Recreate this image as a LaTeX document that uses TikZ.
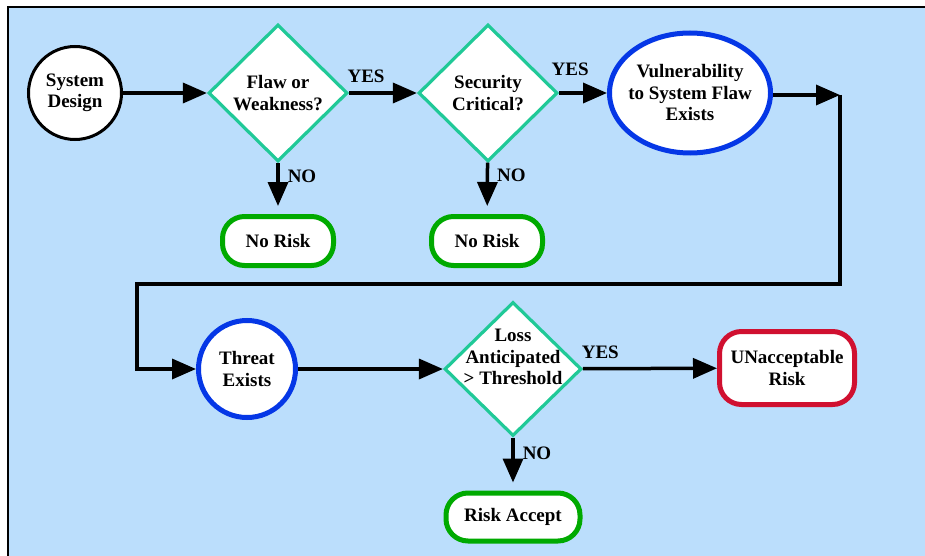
\documentclass[tikz,border=0pt]{standalone}
\usepackage{fontspec}
\setmainfont{Liberation Serif}
\usetikzlibrary{arrows.meta,shapes.geometric}

\definecolor{paneblue}{RGB}{187,222,252}
\definecolor{checkteal}{RGB}{32,201,151}
\definecolor{stateblue}{RGB}{5,55,230}
\definecolor{safegreen}{RGB}{0,170,0}
\definecolor{riskred}{RGB}{208,16,48}

\tikzset{
  flow/.style={line width=3.5pt, -{Triangle[length=24pt,width=20pt]}},
  drop/.style={flow, shorten >=8pt},
  start/.style={circle, draw=black, line width=3pt, fill=white, inner sep=0pt,
    minimum size=93pt, align=center},
  check/.style={diamond, draw=checkteal, line width=3.2pt, fill=white, inner sep=0pt,
    minimum width=139pt, minimum height=137pt, align=center},
  state/.style={ellipse, draw=stateblue, line width=5pt, fill=white, inner sep=0pt,
    align=center},
  outcome/.style={rectangle, rounded corners=22pt, line width=5pt, fill=white,
    inner sep=0pt, align=center},
  norisk/.style={outcome, draw=safegreen, minimum width=111pt, minimum height=49pt},
  badrisk/.style={outcome, draw=riskred, minimum width=135pt, minimum height=73pt},
  lbl/.style={inner sep=0pt}
}

\begin{document}
\begin{tikzpicture}[x=1pt,y=-1pt,font=\fontsize{19}{21.5}\selectfont\bfseries]
\useasboundingbox (0,0) rectangle (925,556);
\fill[paneblue] (8,7) rectangle (925,556);
\draw[line width=2pt] (8,556) |- (925,7);

% top row
\node[start] (sys) at (75,93) {System\\Design};
\node[check] (flaw) at (278,93) {Flaw or\\Weakness?};
\node[check] (crit) at (488,93) {Security\\Critical?};
\node[state, inner xsep=-6pt, minimum width=161pt, minimum height=120pt] (vuln)
  at (690,93) {Vulnerability\\to System Flaw\\Exists};
\node[norisk] (safe1) at (278,241) {No Risk};
\node[norisk] (safe2) at (487,241) {No Risk};

% bottom row
\node[state, circle, minimum size=97pt] (threat) at (247,369) {Threat\\Exists};
\node[check, minimum width=137pt, minimum height=134pt,
  label={[yshift=12pt, align=center]center:Loss\\Anticipated\\> Threshold}]
  (loss) at (513,369) {};
\node[badrisk] (unacc) at (787,368) {UNacceptable\\Risk};
\node[norisk, minimum width=134pt, minimum height=48pt] (accept) at (513,517)
  {Risk Accept};

\coordinate (turn1) at (840,95);
\coordinate (turn2) at (137,284);

\draw[flow] (sys) -- (flaw);
\draw[flow] (flaw) -- node[lbl, above=9pt, pos=.25] {YES} (crit);
\draw[flow] (crit) -- node[lbl, above=16pt, pos=.23] {YES} (vuln);
\draw[drop] (flaw) -- node[lbl, right=8pt, pos=.25] {NO} (safe1);
\draw[drop] (crit) -- node[lbl, right=8pt, pos=.25] {NO} (safe2);
\draw[flow] (vuln.east |- turn1) -- (turn1);
\draw[flow] (turn1) |- (turn2) |- (threat);
\draw[flow] (threat) -- (loss);
\draw[flow] (loss) -- node[lbl, above=8pt, pos=.13] {YES} (unacc);
\draw[drop] (loss) -- node[lbl, right=8pt, pos=.3] {NO} (accept);
\end{tikzpicture}
\end{document}
